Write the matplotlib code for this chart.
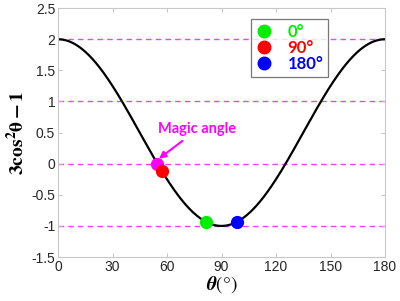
import numpy as np
import matplotlib
matplotlib.use("Agg")
import matplotlib.pyplot as plt
from matplotlib.lines import Line2D

theta_deg = np.linspace(0, 180, 361)
curve = 3 * np.cos(np.radians(theta_deg)) ** 2 - 1

ref_levels = [2, 1, 0, -1]
magic_theta = 54.74
point_thetas = [57.2, 81.5, 98.5]
point_colors = ['#ff0000', '#00ee00', '#0000ff']
legend_labels = ['0°', '90°', '180°']
legend_colors = ['#00ee00', '#ff0000', '#0000ff']
xticks = [0, 30, 60, 90, 120, 150, 180]
yticks = [-1.5, -1, -0.5, 0, 0.5, 1, 1.5, 2, 2.5]

plt.rcParams['mathtext.fontset'] = 'stix'

fig = plt.figure(figsize=(4.0, 3.01), dpi=100)
ax = fig.add_axes([0.145, 0.146, 0.8175, 0.827])

for lv in ref_levels:
    ax.axhline(lv, color='#ee44ee', lw=1.0, ls=(0, (4, 3)), zorder=1)

ax.plot(theta_deg, curve, color='black', lw=1.6, zorder=2)

f = lambda t: 3 * np.cos(np.radians(t)) ** 2 - 1
ax.plot([magic_theta], [f(magic_theta)], 'o', color='#ff00ff', ms=8.5, zorder=4)
for t, c in zip(point_thetas, point_colors):
    ax.plot([t], [f(t)], 'o', color=c, ms=8.5, zorder=4)

ax.annotate('Magic angle', xy=(magic_theta + 0.8, f(magic_theta) + 0.08),
            xytext=(55.3, 0.55), color='#ff00ff', fontsize=10.5, fontweight='bold',
            family='Lato', ha='left', va='center',
            arrowprops=dict(arrowstyle='-|>', color='#ff00ff', lw=1.5,
                            mutation_scale=10, shrinkA=2, shrinkB=0))

ax.set_xlim(0, 180)
ax.set_ylim(-1.5, 2.5)
ax.set_xticks(xticks)
ax.set_yticks(yticks)
ax.set_yticklabels(['-1.5', '-1', '-0.5', '0', '0.5', '1', '1.5', '2', '2.5'])
ax.tick_params(direction='in', length=3, width=0.6, color='#bbbbbb',
               labelsize=10, labelcolor='#262626', top=True, right=True, pad=2)
for lab in ax.get_xticklabels() + ax.get_yticklabels():
    lab.set_family('Liberation Sans')
for s in ax.spines.values():
    s.set_color('#c8c8c8')
    s.set_linewidth(0.8)

ax.set_ylabel(r'$\mathbf{3cos^2\theta - 1}$', fontsize=14, labelpad=2)
ax.set_xlabel(r'$\boldsymbol{\theta}(°)$', fontsize=14, labelpad=0)

handles = [Line2D([], [], marker='o', ls='none', color=c, ms=9) for c in legend_colors]
leg = ax.legend(handles, legend_labels, loc='upper left', bbox_to_anchor=(0.59, 0.956),
                borderaxespad=0, frameon=True, fancybox=False, handlelength=1.0,
                handletextpad=0.9, borderpad=0.3, labelspacing=0.0,
                prop=dict(family='Lato', weight='bold', size=12))
leg.get_frame().set_edgecolor('#555555')
leg.get_frame().set_linewidth(0.9)
for txt, c in zip(leg.get_texts(), legend_colors):
    txt.set_color(c)

fig.savefig('out.png', dpi=100)
